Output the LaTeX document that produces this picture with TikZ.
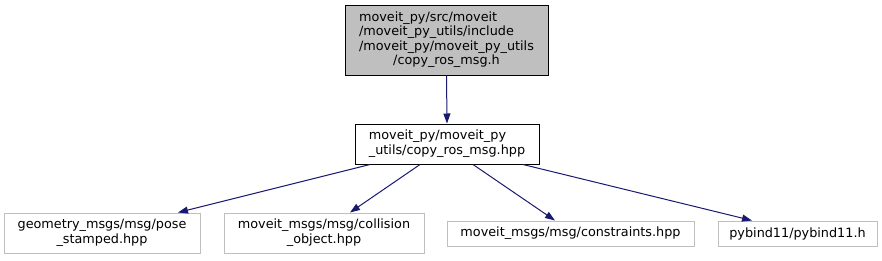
\documentclass[tikz,border=0pt]{standalone}
\usepackage{fontspec}
\setmainfont{DejaVu Sans}
\usetikzlibrary{arrows.meta}
\definecolor{edgeblue}{RGB}{25,25,112}
\definecolor{boxgray}{RGB}{191,191,191}
\newcommand{\lastln}[1]{\multicolumn{1}{@{}c@{}}{#1}}

\begin{document}
\begin{tikzpicture}[x=1pt,y=-1pt,
  every node/.style={font=\fontsize{12.8}{14.5}\selectfont, inner sep=0pt},
  hdrbox/.style={draw=black, fill=boxgray, line width=1pt, minimum width=203pt, minimum height=70pt},
  filebox/.style={draw=black, line width=1pt, minimum width=184pt, minimum height=40pt},
  extbox/.style={draw=boxgray, line width=1pt, minimum height=#1},
  incl/.style={draw=edgeblue, line width=1pt, -{Triangle[length=10pt,width=7pt]}}]
  \useasboundingbox (0,0) rectangle (882,260);

  \node[hdrbox] (top) at (446.5,40) {\begin{tabular}{@{}l@{}}moveit\_py/src/moveit\\/moveit\_py\_utils/include\\/moveit\_py/moveit\_py\_utils\\\lastln{/copy\_ros\_msg.h}\end{tabular}};
  \node[filebox] (mid) at (447,144) {\begin{tabular}{@{}l@{}}moveit\_py/moveit\_py\\\lastln{\_utils/copy\_ros\_msg.hpp}\end{tabular}};

  % included headers
  \node[extbox=40pt, minimum width=196pt] (geo) at (102,233) {\begin{tabular}{@{}l@{}}geometry\_msgs/msg/pose\\\lastln{\_stamped.hpp}\end{tabular}};
  \node[extbox=40pt, minimum width=200pt] (coll) at (324,233) {\begin{tabular}{@{}l@{}}moveit\_msgs/msg/collision\\\lastln{\_object.hpp}\end{tabular}};
  \node[extbox=25pt, minimum width=247pt] (cons) at (570.5,233.5) {moveit\_msgs/msg/constraints.hpp};
  \node[extbox=25pt, minimum width=159pt] (pyb) at (797.5,233.5) {pybind11/pybind11.h};

  % include edges
  \draw[incl] (top.south) -- (mid.north);
  \draw[incl] ([xshift=-77pt]mid.south) -- ([xshift=76pt]geo.north);
  \draw[incl] ([xshift=-27pt]mid.south) -- ([xshift=26pt]coll.north);
  \draw[incl] ([xshift=26pt]mid.south) -- ([xshift=-15.5pt]cons.north);
  \draw[incl] ([xshift=76pt]mid.south) -- ([xshift=-45.5pt]pyb.north);
\end{tikzpicture}
\end{document}
